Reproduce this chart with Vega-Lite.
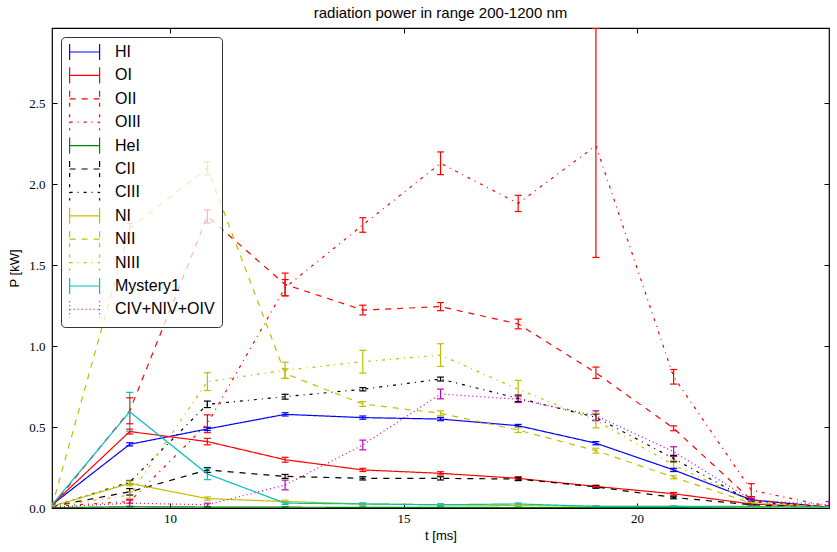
{
"$schema": "https://vega.github.io/schema/vega-lite/v6.json",
"width": 777, "height": 480,
"autosize": {"type": "none"},
"padding": {"left": 52, "top": 28, "right": 8, "bottom": 44},
"background": "white",
"title": {"text": "radiation power in range 200-1200 nm", "font": "Liberation Sans", "fontSize": 15, "fontWeight": "normal", "color": "black", "offset": 7},
"config": {"view": {"stroke": "black", "strokeWidth": 1.2}},
"data": {"values": [
{"s":"HI","t":7.473,"p":0.02,"lo":0.015,"hi":0.025},{"s":"HI","t":9.137,"p":0.393,"lo":0.383,"hi":0.403},{"s":"HI","t":10.8,"p":0.488,"lo":0.478,"hi":0.498},{"s":"HI","t":12.464,"p":0.578,"lo":0.568,"hi":0.588},{"s":"HI","t":14.128,"p":0.558,"lo":0.548,"hi":0.568},{"s":"HI","t":15.792,"p":0.549,"lo":0.539,"hi":0.559},{"s":"HI","t":17.455,"p":0.508,"lo":0.5,"hi":0.516},{"s":"HI","t":19.119,"p":0.4,"lo":0.39,"hi":0.41},{"s":"HI","t":20.783,"p":0.235,"lo":0.225,"hi":0.245},{"s":"HI","t":22.446,"p":0.05,"lo":0.045,"hi":0.055},{"s":"HI","t":24.11,"p":0.005,"lo":0.003,"hi":0.007},
{"s":"OI","t":7.473,"p":0.02,"lo":0.015,"hi":0.025},{"s":"OI","t":9.137,"p":0.472,"lo":0.457,"hi":0.487},{"s":"OI","t":10.8,"p":0.41,"lo":0.39,"hi":0.43},{"s":"OI","t":12.464,"p":0.298,"lo":0.283,"hi":0.313},{"s":"OI","t":14.128,"p":0.235,"lo":0.225,"hi":0.245},{"s":"OI","t":15.792,"p":0.214,"lo":0.204,"hi":0.224},{"s":"OI","t":17.455,"p":0.183,"lo":0.173,"hi":0.193},{"s":"OI","t":19.119,"p":0.133,"lo":0.125,"hi":0.141},{"s":"OI","t":20.783,"p":0.088,"lo":0.08,"hi":0.096},{"s":"OI","t":22.446,"p":0.025,"lo":0.02,"hi":0.03},{"s":"OI","t":24.11,"p":0.005,"lo":0.003,"hi":0.007},
{"s":"OII","t":7.473,"p":0.01,"lo":0.005,"hi":0.015},{"s":"OII","t":9.137,"p":0.6,"lo":0.52,"hi":0.68},{"s":"OII","t":10.8,"p":1.8,"lo":1.76,"hi":1.84},{"s":"OII","t":12.464,"p":1.38,"lo":1.31,"hi":1.45},{"s":"OII","t":14.128,"p":1.222,"lo":1.192,"hi":1.252},{"s":"OII","t":15.792,"p":1.243,"lo":1.218,"hi":1.268},{"s":"OII","t":17.455,"p":1.136,"lo":1.106,"hi":1.166},{"s":"OII","t":19.119,"p":0.835,"lo":0.8,"hi":0.87},{"s":"OII","t":20.783,"p":0.492,"lo":0.477,"hi":0.507},{"s":"OII","t":22.446,"p":0.05,"lo":0.03,"hi":0.07},{"s":"OII","t":24.11,"p":0.005,"lo":0.003,"hi":0.007},
{"s":"OIII","t":7.473,"p":0.01,"lo":0.005,"hi":0.015},{"s":"OIII","t":9.137,"p":0.04,"lo":0.03,"hi":0.05},{"s":"OIII","t":10.8,"p":0.52,"lo":0.465,"hi":0.575},{"s":"OIII","t":12.464,"p":1.36,"lo":1.31,"hi":1.41},{"s":"OIII","t":14.128,"p":1.747,"lo":1.702,"hi":1.792},{"s":"OIII","t":15.792,"p":2.128,"lo":2.058,"hi":2.198},{"s":"OIII","t":17.455,"p":1.88,"lo":1.83,"hi":1.93},{"s":"OIII","t":19.119,"p":2.237,"lo":1.547,"hi":2.96},{"s":"OIII","t":20.783,"p":0.81,"lo":0.765,"hi":0.855},{"s":"OIII","t":22.446,"p":0.11,"lo":0.07,"hi":0.15},{"s":"OIII","t":24.11,"p":0.01,"lo":0.005,"hi":0.015},
{"s":"HeI","t":7.473,"p":0.002,"lo":0.0,"hi":0.004},{"s":"HeI","t":9.137,"p":0.008,"lo":0.006,"hi":0.01},{"s":"HeI","t":10.8,"p":0.006,"lo":0.004,"hi":0.008},{"s":"HeI","t":12.464,"p":0.005,"lo":0.003,"hi":0.007},{"s":"HeI","t":14.128,"p":0.004,"lo":0.002,"hi":0.006},{"s":"HeI","t":15.792,"p":0.004,"lo":0.002,"hi":0.006},{"s":"HeI","t":17.455,"p":0.003,"lo":0.001,"hi":0.005},{"s":"HeI","t":19.119,"p":0.003,"lo":0.001,"hi":0.005},{"s":"HeI","t":20.783,"p":0.002,"lo":0.0,"hi":0.004},{"s":"HeI","t":22.446,"p":0.002,"lo":0.0,"hi":0.004},{"s":"HeI","t":24.11,"p":0.001,"lo":0.0,"hi":0.003},
{"s":"CII","t":7.473,"p":0.01,"lo":0.006,"hi":0.014},{"s":"CII","t":9.137,"p":0.1,"lo":0.08,"hi":0.12},{"s":"CII","t":10.8,"p":0.235,"lo":0.22,"hi":0.25},{"s":"CII","t":12.464,"p":0.195,"lo":0.183,"hi":0.207},{"s":"CII","t":14.128,"p":0.183,"lo":0.173,"hi":0.193},{"s":"CII","t":15.792,"p":0.183,"lo":0.173,"hi":0.193},{"s":"CII","t":17.455,"p":0.179,"lo":0.169,"hi":0.189},{"s":"CII","t":19.119,"p":0.13,"lo":0.122,"hi":0.138},{"s":"CII","t":20.783,"p":0.065,"lo":0.057,"hi":0.073},{"s":"CII","t":22.446,"p":0.02,"lo":0.015,"hi":0.025},{"s":"CII","t":24.11,"p":0.003,"lo":0.001,"hi":0.005},
{"s":"CIII","t":7.473,"p":0.01,"lo":0.005,"hi":0.015},{"s":"CIII","t":9.137,"p":0.16,"lo":0.15,"hi":0.17},{"s":"CIII","t":10.8,"p":0.64,"lo":0.62,"hi":0.66},{"s":"CIII","t":12.464,"p":0.687,"lo":0.672,"hi":0.702},{"s":"CIII","t":14.128,"p":0.733,"lo":0.723,"hi":0.743},{"s":"CIII","t":15.792,"p":0.796,"lo":0.784,"hi":0.808},{"s":"CIII","t":17.455,"p":0.677,"lo":0.657,"hi":0.697},{"s":"CIII","t":19.119,"p":0.56,"lo":0.54,"hi":0.58},{"s":"CIII","t":20.783,"p":0.305,"lo":0.285,"hi":0.325},{"s":"CIII","t":22.446,"p":0.04,"lo":0.03,"hi":0.05},{"s":"CIII","t":24.11,"p":0.005,"lo":0.003,"hi":0.007},
{"s":"NI","t":7.473,"p":0.01,"lo":0.007,"hi":0.013},{"s":"NI","t":9.137,"p":0.152,"lo":0.137,"hi":0.167},{"s":"NI","t":10.8,"p":0.058,"lo":0.048,"hi":0.068},{"s":"NI","t":12.464,"p":0.04,"lo":0.032,"hi":0.048},{"s":"NI","t":14.128,"p":0.025,"lo":0.02,"hi":0.03},{"s":"NI","t":15.792,"p":0.02,"lo":0.016,"hi":0.024},{"s":"NI","t":17.455,"p":0.015,"lo":0.011,"hi":0.019},{"s":"NI","t":19.119,"p":0.01,"lo":0.007,"hi":0.013},{"s":"NI","t":20.783,"p":0.01,"lo":0.007,"hi":0.013},{"s":"NI","t":22.446,"p":0.005,"lo":0.003,"hi":0.007},{"s":"NI","t":24.11,"p":0.003,"lo":0.002,"hi":0.004},
{"s":"NII","t":7.473,"p":0.01,"lo":0.005,"hi":0.015},{"s":"NII","t":9.137,"p":1.726,"lo":1.696,"hi":1.756},{"s":"NII","t":10.8,"p":2.097,"lo":2.057,"hi":2.137},{"s":"NII","t":12.464,"p":0.83,"lo":0.8,"hi":0.86},{"s":"NII","t":14.128,"p":0.642,"lo":0.627,"hi":0.657},{"s":"NII","t":15.792,"p":0.584,"lo":0.569,"hi":0.599},{"s":"NII","t":17.455,"p":0.481,"lo":0.466,"hi":0.496},{"s":"NII","t":19.119,"p":0.354,"lo":0.339,"hi":0.369},{"s":"NII","t":20.783,"p":0.19,"lo":0.18,"hi":0.2},{"s":"NII","t":22.446,"p":0.03,"lo":0.025,"hi":0.035},{"s":"NII","t":24.11,"p":0.005,"lo":0.003,"hi":0.007},
{"s":"NIII","t":7.473,"p":0.01,"lo":0.006,"hi":0.014},{"s":"NIII","t":9.137,"p":0.08,"lo":0.06,"hi":0.1},{"s":"NIII","t":10.8,"p":0.78,"lo":0.725,"hi":0.835},{"s":"NIII","t":12.464,"p":0.85,"lo":0.8,"hi":0.9},{"s":"NIII","t":14.128,"p":0.903,"lo":0.833,"hi":0.973},{"s":"NIII","t":15.792,"p":0.944,"lo":0.874,"hi":1.014},{"s":"NIII","t":17.455,"p":0.733,"lo":0.678,"hi":0.788},{"s":"NIII","t":19.119,"p":0.54,"lo":0.495,"hi":0.585},{"s":"NIII","t":20.783,"p":0.265,"lo":0.235,"hi":0.295},{"s":"NIII","t":22.446,"p":0.04,"lo":0.03,"hi":0.05},{"s":"NIII","t":24.11,"p":0.005,"lo":0.003,"hi":0.007},
{"s":"Mystery1","t":7.473,"p":0.02,"lo":0.015,"hi":0.025},{"s":"Mystery1","t":9.137,"p":0.594,"lo":0.474,"hi":0.714},{"s":"Mystery1","t":10.8,"p":0.21,"lo":0.175,"hi":0.245},{"s":"Mystery1","t":12.464,"p":0.03,"lo":0.022,"hi":0.038},{"s":"Mystery1","t":14.128,"p":0.025,"lo":0.019,"hi":0.031},{"s":"Mystery1","t":15.792,"p":0.02,"lo":0.014,"hi":0.026},{"s":"Mystery1","t":17.455,"p":0.025,"lo":0.019,"hi":0.031},{"s":"Mystery1","t":19.119,"p":0.01,"lo":0.006,"hi":0.014},{"s":"Mystery1","t":20.783,"p":0.01,"lo":0.006,"hi":0.014},{"s":"Mystery1","t":22.446,"p":0.01,"lo":0.007,"hi":0.013},{"s":"Mystery1","t":24.11,"p":0.005,"lo":0.003,"hi":0.007},
{"s":"CIV+NIV+OIV","t":7.473,"p":0.005,"lo":0.002,"hi":0.008},{"s":"CIV+NIV+OIV","t":9.137,"p":0.03,"lo":0.01,"hi":0.05},{"s":"CIV+NIV+OIV","t":10.8,"p":0.02,"lo":0.01,"hi":0.03},{"s":"CIV+NIV+OIV","t":12.464,"p":0.142,"lo":0.112,"hi":0.172},{"s":"CIV+NIV+OIV","t":14.128,"p":0.389,"lo":0.359,"hi":0.419},{"s":"CIV+NIV+OIV","t":15.792,"p":0.704,"lo":0.674,"hi":0.734},{"s":"CIV+NIV+OIV","t":17.455,"p":0.671,"lo":0.651,"hi":0.691},{"s":"CIV+NIV+OIV","t":19.119,"p":0.57,"lo":0.54,"hi":0.6},{"s":"CIV+NIV+OIV","t":20.783,"p":0.348,"lo":0.318,"hi":0.378},{"s":"CIV+NIV+OIV","t":22.446,"p":0.05,"lo":0.04,"hi":0.06},{"s":"CIV+NIV+OIV","t":24.11,"p":0.02,"lo":0.0,"hi":0.04}
]},
"encoding": {
  "x": {"field": "t", "type": "quantitative", "scale": {"domain": [7.473, 24.11], "nice": false, "zero": false}, "axis": null},
  "color": {"field": "s", "type": "nominal",
    "scale": {"domain": ["HI","OI","OII","OIII","HeI","CII","CIII","NI","NII","NIII","Mystery1","CIV+NIV+OIV"],
              "range": ["#0000ff","#ff0000","#ff0000","#ff0000","#008000","#000000","#000000","#bfbf00","#bfbf00","#bfbf00","#00bfbf","#bf00bf"]},
    "legend": {"title": null, "orient": "none", "legendX": 9, "legendY": 9, "symbolType": "M-0.91,0H3.37M-0.91,-1.15V1.15M3.37,-1.15V1.15", "symbolSize": 196, "symbolStrokeWidth": 1.2,
               "labelFont": "Liberation Sans", "labelFontSize": 16, "labelColor": "black", "labelOffset": 31, "rowPadding": 1.4, "padding": 7,
               "strokeColor": "#333333", "fillColor": "rgba(255,255,255,0.72)", "cornerRadius": 4}}
},
"layer": [
  {"mark": {"type": "rule", "strokeWidth": 1.2, "clip": true},
   "encoding": {"y": {"field": "lo", "type": "quantitative", "scale": {"domain": [0, 2.963], "nice": false}, "axis": null}, "y2": {"field": "hi"}}},
  {"mark": {"type": "tick", "orient": "horizontal", "size": 7, "thickness": 1.2, "clip": true, "opacity": 1},
   "encoding": {"y": {"field": "lo", "type": "quantitative", "scale": {"domain": [0, 2.963], "nice": false}, "axis": null}}},
  {"mark": {"type": "tick", "orient": "horizontal", "size": 7, "thickness": 1.2, "clip": true, "opacity": 1},
   "encoding": {"y": {"field": "hi", "type": "quantitative", "scale": {"domain": [0, 2.963], "nice": false}, "axis": null}}},
  {"mark": {"type": "line", "strokeWidth": 1.2, "clip": true},
   "encoding": {
     "x": {"field": "t", "type": "quantitative", "scale": {"domain": [7.473, 24.11], "nice": false, "zero": false},
           "axis": {"title": "t [ms]", "values": [10, 15, 20], "format": "d", "grid": false, "domain": false,
                    "tickSize": -5, "tickColor": "black", "labelPadding": 9, "labelFont": "Liberation Serif", "labelFontSize": 13, "labelColor": "black",
                    "titleFont": "Liberation Sans", "titleFontSize": 13, "titleFontWeight": "normal", "titleColor": "black", "titlePadding": 4}},
     "y": {"field": "p", "type": "quantitative", "scale": {"domain": [0, 2.963], "nice": false},
           "axis": {"title": "P [kW]", "values": [0, 0.5, 1, 1.5, 2, 2.5], "format": ".1f", "grid": false, "domain": false,
                    "tickSize": -5, "tickColor": "black", "labelPadding": 12, "labelFont": "Liberation Serif", "labelFontSize": 13, "labelColor": "black",
                    "titleFont": "Liberation Sans", "titleFontSize": 13, "titleFontWeight": "normal", "titleColor": "black", "titlePadding": 7}},
     "strokeDash": {"field": "s", "type": "nominal",
       "scale": {"domain": ["HI","OI","OII","OIII","HeI","CII","CIII","NI","NII","NIII","Mystery1","CIV+NIV+OIV"],
                 "range": [[1,0],[1,0],[6,6],[3,5,1,5],[1,0],[6,6],[3,5,1,5],[1,0],[6,6],[3,5,1,5],[1,0],[1,3]]},
       "legend": {"title": null, "orient": "none", "legendX": 9, "legendY": 9, "symbolType": "M-0.91,0H3.37M-0.91,-1.15V1.15M3.37,-1.15V1.15", "symbolSize": 196, "symbolStrokeWidth": 1.2,
                  "labelFont": "Liberation Sans", "labelFontSize": 16, "labelColor": "black", "labelOffset": 31, "rowPadding": 1.4, "padding": 7,
                  "strokeColor": "#333333", "fillColor": "rgba(255,255,255,0.72)", "cornerRadius": 4}}
   }},
  {"mark": {"type": "point", "opacity": 0},
   "encoding": {
     "x": {"field": "t", "type": "quantitative", "scale": {"domain": [7.473, 24.11], "nice": false, "zero": false},
           "axis": {"orient": "top", "title": null, "values": [10, 15, 20], "labels": false, "grid": false, "domain": false, "tickSize": -5, "tickColor": "black"}},
     "y": {"field": "p", "type": "quantitative", "scale": {"domain": [0, 2.963], "nice": false},
           "axis": {"orient": "right", "title": null, "values": [0, 0.5, 1, 1.5, 2, 2.5], "labels": false, "grid": false, "domain": false, "tickSize": -5, "tickColor": "black"}},
     "color": {"value": "black"}
   }}
],
"resolve": {"axis": {"x": "independent", "y": "independent"}}
}
